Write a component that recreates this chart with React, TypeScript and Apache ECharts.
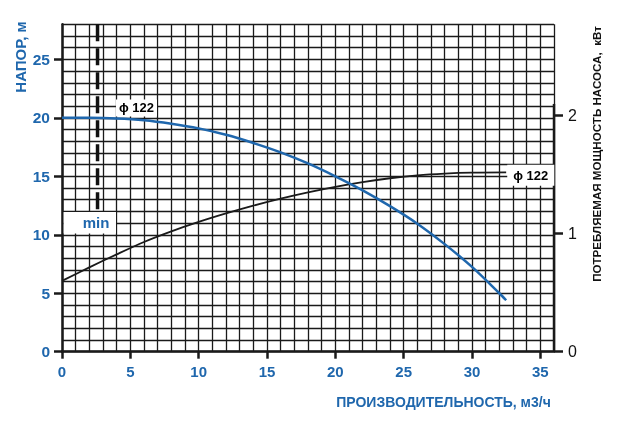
import React, { useEffect, useRef } from "react";
import * as echarts from "echarts";

// Head curve (left axis, m) vs flow (m3/h)
const headFlow = [0, 2, 4, 6, 8, 10, 12, 14, 16, 18, 20, 22, 24, 26, 28, 30, 32, 32.5];
const head = [20, 20, 19.95, 19.8, 19.5, 19.1, 18.55, 17.85, 17.05, 16.1, 15.0, 13.8, 12.45, 10.95, 9.2, 7.25, 5.0, 4.4];

// Power curve (right axis, kW) vs flow (m3/h)
const powerFlow = [0, 2, 4, 6, 8, 10, 12, 14, 16, 18, 20, 22, 24, 26, 28, 30, 32.5];
const power = [0.6, 0.715, 0.825, 0.93, 1.02, 1.1, 1.172, 1.238, 1.297, 1.35, 1.397, 1.437, 1.47, 1.495, 1.51, 1.518, 1.52];

const xTicks = [0, 5, 10, 15, 20, 25, 30, 35];
const headTicks = [0, 5, 10, 15, 20, 25];
const powerTicks = [0, 1, 2];

const minFlow = 2.6;
const minLabel = "min";
const impellerLabel = "ϕ 122";
const xName = "ПРОИЗВОДИТЕЛЬНОСТЬ, м3/ч";
const leftName = "НАПОР, м";
const rightName = "ПОТРЕБЛЯЕМАЯ МОЩНОСТЬ НАСОСА,  кВт";

const BLUE = "#1f67ad";
const INK = "#1a1a1a";
const FONT = '"Liberation Sans", Arial, sans-serif';

export default function App() {
  const ref = useRef<HTMLDivElement>(null);
  useEffect(() => {
    const chart = echarts.init(ref.current!, null, { renderer: "svg" });
    const labelStyle = (color: string, size: number, weight: string) => ({
      color,
      fontSize: size,
      fontWeight: weight,
      fontFamily: FONT,
    });
    const option: any = {
      animation: false,
      textStyle: { fontFamily: FONT },
      grid: { left: 62, right: 65, top: 24.3, bottom: 78.3, containLabel: false },
      xAxis: [
        {
          type: "value",
          min: 0,
          max: 36,
          interval: 1,
          axisLine: { show: false },
          axisTick: { show: false },
          axisLabel: { show: false },
          splitLine: { show: true, lineStyle: { color: INK, width: 1.3 } },
        },
        {
          type: "value",
          position: "bottom",
          min: 0,
          max: 36,
          interval: 5,
          axisLine: { show: true, onZero: false, lineStyle: { color: INK, width: 2.5 } },
          axisTick: { show: true, customValues: xTicks, length: 7, lineStyle: { color: INK, width: 2.5 } },
          axisLabel: { customValues: xTicks, margin: 12, ...labelStyle(BLUE, 15, "bold") },
          splitLine: { show: false },
        },
      ],
      yAxis: [
        {
          type: "value",
          min: 0,
          max: 28,
          interval: 1,
          axisLine: { show: false },
          axisTick: { show: false },
          axisLabel: { show: false },
          splitLine: { show: true, lineStyle: { color: INK, width: 1.3 } },
        },
        {
          type: "value",
          position: "left",
          min: 0,
          max: 28,
          interval: 5,
          axisLine: { show: true, onZero: false, lineStyle: { color: INK, width: 2.5 } },
          axisTick: { show: true, customValues: headTicks, length: 8, lineStyle: { color: INK, width: 2.5 } },
          axisLabel: { customValues: headTicks, margin: 12, ...labelStyle(BLUE, 15.5, "bold") },
          splitLine: { show: false },
        },
        {
          type: "value",
          position: "right",
          min: 0,
          max: 2.775,
          interval: 1,
          axisLine: { show: false, onZero: false },
          axisTick: { show: true, customValues: powerTicks, length: 9, lineStyle: { color: INK, width: 2.5 } },
          axisLabel: { customValues: powerTicks, margin: 14, ...labelStyle("#111", 16, "normal") },
          splitLine: { show: false },
        },
      ],
      graphic: [
        {
          type: "text",
          x: 20,
          y: 57,
          rotation: Math.PI / 2,
          style: { text: leftName, fill: BLUE, font: `bold 15px ${FONT}`, align: "center", verticalAlign: "middle" },
        },
        {
          type: "text",
          x: 596.5,
          y: 154,
          rotation: Math.PI / 2,
          style: { text: rightName, fill: "#111", font: `bold 11.6px ${FONT}`, align: "center", verticalAlign: "middle" },
        },
        {
          type: "text",
          x: 443.5,
          y: 402,
          style: { text: xName, fill: BLUE, font: `bold 14px ${FONT}`, align: "center", verticalAlign: "middle" },
        },
      ],
      series: [
        {
          type: "line",
          name: "min box",
          xAxisIndex: 0,
          yAxisIndex: 0,
          data: [],
          silent: true,
          markArea: {
            silent: true,
            itemStyle: { color: "#ffffff", opacity: 1 },
            label: { show: false },
            data: [[{ coord: [0.12, 10.1] }, { coord: [3.95, 11.95] }]],
          },
        },
        {
          type: "line",
          name: "min line",
          xAxisIndex: 0,
          yAxisIndex: 0,
          data: [
            [minFlow, 28],
            [minFlow, 12],
          ],
          symbol: "none",
          lineStyle: { color: "#111", width: 3.5, type: [17, 7] },
          silent: true,
        },
        {
          type: "line",
          name: "power",
          xAxisIndex: 0,
          yAxisIndex: 2,
          data: powerFlow.map((q, i) => [q, power[i]]),
          symbol: "none",
          smooth: 0.3,
          lineStyle: { color: INK, width: 1.8 },
          silent: true,
        },
        {
          type: "line",
          name: "head",
          xAxisIndex: 0,
          yAxisIndex: 0,
          data: headFlow.map((q, i) => [q, head[i]]),
          symbol: "none",
          smooth: 0.3,
          lineStyle: { color: BLUE, width: 2.5 },
          silent: true,
        },
        {
          type: "line",
          name: "right axis",
          xAxisIndex: 0,
          yAxisIndex: 2,
          data: [
            [36, 0],
            [36, 2.1],
          ],
          symbol: "none",
          lineStyle: { color: INK, width: 2.5 },
          silent: true,
        },
        {
          type: "scatter",
          name: "labels",
          xAxisIndex: 0,
          yAxisIndex: 0,
          symbolSize: 0,
          silent: true,
          z: 5,
          itemStyle: { opacity: 1 },
          data: [
            {
              value: [5.45, 20.85],
              label: {
                show: true,
                formatter: impellerLabel,
                position: "inside",
                ...labelStyle("#000", 13, "bold"),
                opacity: 1,
                backgroundColor: "#ffffff",
                padding: [2, 3],
              },
            },
            {
              value: [34.3, 15.1],
              label: {
                show: true,
                formatter: impellerLabel,
                position: "inside",
                ...labelStyle("#000", 13, "bold"),
                opacity: 1,
                backgroundColor: "#ffffff",
                padding: [4, 6],
              },
            },
            {
              value: [2.49, 11.08],
              label: {
                show: true,
                formatter: minLabel,
                position: "inside",
                ...labelStyle(BLUE, 15, "bold"),
                opacity: 1,
              },
            },
          ],
        },
      ],
    };
    chart.setOption(option);
    return () => chart.dispose();
  }, []);
  return <div ref={ref} style={{ position: "fixed", left: 0, top: 0, width: 619, height: 430 }} />;
}
